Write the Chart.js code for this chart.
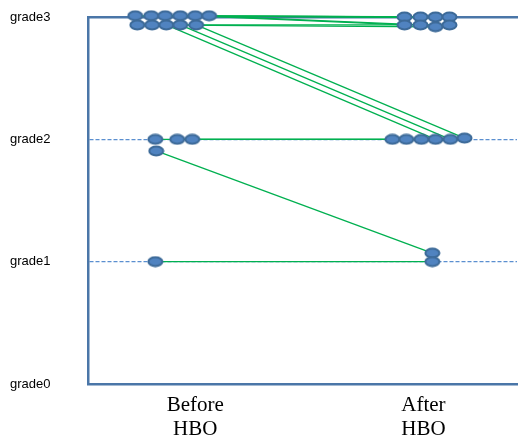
<!DOCTYPE html>
<html>
<head>
<meta charset="utf-8">
<script src="https://cdn.jsdelivr.net/npm/chart.js"></script>
<style>
    body { margin: 0; background: #ffffff; }
    #wrap { width: 518px; height: 439px; }
</style>
</head>
<body>
<div id="wrap"><canvas id="gradeChart" width="518" height="439"></canvas></div>
<script>
// Axis labels
const yLabels = ['grade0', 'grade1', 'grade2', 'grade3'];
const xLabels = [['Before', 'HBO'], ['After', 'HBO']];

// Each patient: position before HBO (x = 0 column) and after HBO (x = 1 column)
// x values carry the small sideways spread seen in the picture, y is the grade
const beforeX = [-0.263, -0.193, -0.132, -0.066, 0.000, 0.061, -0.254, -0.189, -0.127, -0.066, 0.004, -0.175, -0.079, -0.013, -0.171, -0.175];
const beforeY = [3.01, 3.01, 3.01, 3.01, 3.01, 3.01, 2.935, 2.935, 2.935, 2.935, 2.935, 2.0, 2.0, 2.0, 1.905, 1.0];
const afterX  = [0.917, 0.987, 1.053, 1.114, 0.917, 0.987, 1.053, 1.114, 1.053, 1.118, 1.180, 0.864, 0.925, 0.991, 1.039, 1.039];
const afterY  = [3.0, 3.0, 3.0, 3.0, 2.935, 2.935, 2.92, 2.935, 2.0, 2.0, 2.01, 2.0, 2.0, 2.0, 1.07, 1.0];

const axisColor = '#4a76a8';

// Ellipse marker used as point style
function makeEllipse() {
    const c = document.createElement('canvas');
    c.width = 17;
    c.height = 12;
    const g = c.getContext('2d');
    g.beginPath();
    g.ellipse(8.5, 6, 7, 4.5, 0, 0, Math.PI * 2);
    g.fillStyle = '#5083c0';
    g.fill();
    g.lineWidth = 2;
    g.strokeStyle = '#3d6a98';
    g.stroke();
    return c;
}
const ellipse = makeEllipse();

// One green line per patient
const lineSets = beforeX.map((bx, i) => ({
    data: [{ x: bx, y: beforeY[i] }, { x: afterX[i], y: afterY[i] }],
    showLine: true,
    borderColor: '#00b050',
    borderWidth: 1.3,
    pointRadius: 0,
    clip: false,
    order: 1
}));

// All the markers on top
const markerPoints = [];
beforeX.forEach((bx, i) => markerPoints.push({ x: bx, y: beforeY[i] }));
afterX.forEach((ax, i) => markerPoints.push({ x: ax, y: afterY[i] }));

const ctx = document.getElementById('gradeChart').getContext('2d');
new Chart(ctx, {
    type: 'scatter',
    data: {
        datasets: lineSets.concat([{
            data: markerPoints,
            showLine: false,
            pointStyle: ellipse,
            pointRadius: 7,
            clip: false,
            order: 0
        }])
    },
    options: {
        responsive: false,
        animation: false,
        layout: { autoPadding: false, padding: { left: 10, top: 17, right: 1, bottom: 0 } },
        plugins: {
            legend: { display: false },
            tooltip: { enabled: false }
        },
        scales: {
            x: {
                type: 'linear',
                position: 'bottom',
                min: -0.47,
                max: 1.41,
                afterBuildTicks: scale => { scale.ticks = [{ value: 0 }, { value: 1 }]; },
                afterFit: scale => {
                    scale.height = 55;
                    scale.paddingLeft = 0;
                    scale.paddingRight = 0;
                },
                grid: { display: false },
                border: { color: axisColor, width: 2.5 },
                ticks: {
                    autoSkip: false,
                    maxRotation: 0,
                    padding: 1,
                    color: '#000000',
                    font: { family: '"Liberation Serif", "Times New Roman", serif', size: 21, lineHeight: 1.15 },
                    callback: (value, index) => xLabels[index]
                }
            },
            xTop: {
                type: 'linear',
                position: 'top',
                min: -0.47,
                max: 1.41,
                afterFit: scale => {
                    scale.height = 0;
                    scale.paddingLeft = 0;
                    scale.paddingRight = 0;
                },
                grid: { display: false },
                ticks: { display: false },
                border: { color: axisColor, width: 2.5 }
            },
            y: {
                min: 0,
                max: 3,
                afterFit: scale => { scale.width = 78; },
                grid: {
                    drawTicks: false,
                    lineWidth: 1.2,
                    color: c => (c.tick && (c.tick.value === 1 || c.tick.value === 2)) ? '#5b8fd0' : 'rgba(0,0,0,0)'
                },
                border: { color: axisColor, width: 2.5, dash: [4, 2] },
                ticks: {
                    stepSize: 1,
                    crossAlign: 'far',
                    color: '#000000',
                    font: { family: '"Liberation Sans", Arial, sans-serif', size: 13 },
                    callback: value => yLabels[value]
                }
            }
        }
    }
});
</script>
</body>
</html>
